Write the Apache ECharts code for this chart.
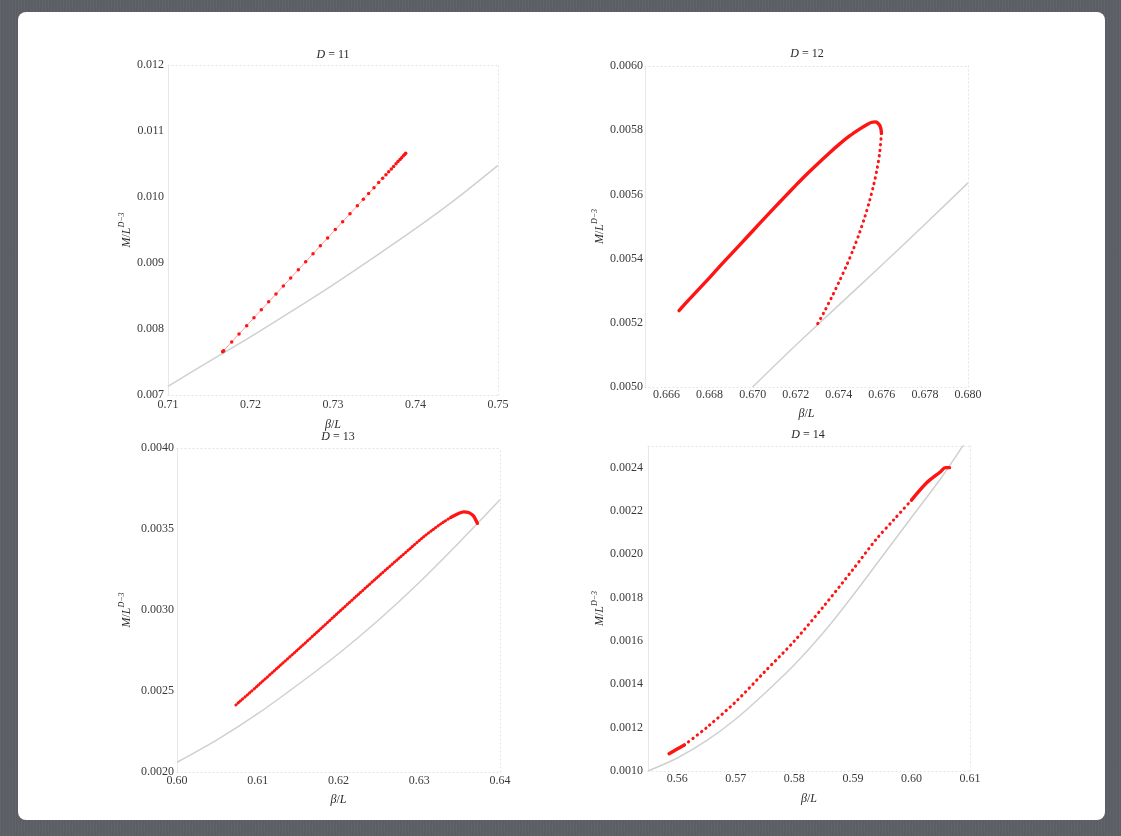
<!DOCTYPE html>
<html>
<head>
<meta charset="utf-8">
<title>M/L^(D-3) vs beta/L</title>
<script src="https://cdn.jsdelivr.net/npm/echarts@6/dist/echarts.min.js"></script>
<style>
  html, body { margin: 0; padding: 0; width: 1121px; height: 836px; overflow: hidden; }
  body {
    background: #5b5e65 repeating-linear-gradient(90deg, rgba(255,255,255,0.035) 0 1px, rgba(0,0,0,0) 1px 3px);
  }
  #panel { position: absolute; left: 18px; top: 12px; width: 1087px; height: 808px; background: #ffffff; border-radius: 8px; }
  #chart { position: absolute; left: 0; top: 0; width: 1121px; height: 836px; }
</style>
</head>
<body>
<div id="panel"></div>
<div id="chart"></div>
<script>
// ---- dimensions shown in the four panels ----
const dims = ['11', '12', '13', '14'];

// ---- axis extents ----
const xRange11 = [0.71, 0.75],  yRange11 = [0.007, 0.012];
const xRange12 = [0.665, 0.680], yRange12 = [0.0050, 0.0060];
const xRange13 = [0.60, 0.64],  yRange13 = [0.0020, 0.0040];
const xRange14 = [0.555, 0.61], yRange14 = [0.0010, 0.0025];

// ---- tick labels ----
const xTicks11 = [0.71, 0.72, 0.73, 0.74, 0.75];
const yTicks11 = [0.007, 0.008, 0.009, 0.010, 0.011, 0.012];
const xTicks12 = [0.666, 0.668, 0.670, 0.672, 0.674, 0.676, 0.678, 0.680];
const yTicks12 = [0.0050, 0.0052, 0.0054, 0.0056, 0.0058, 0.0060];
const xTicks13 = [0.60, 0.61, 0.62, 0.63, 0.64];
const yTicks13 = [0.0020, 0.0025, 0.0030, 0.0035, 0.0040];
const xTicks14 = [0.56, 0.57, 0.58, 0.59, 0.60, 0.61];
const yTicks14 = [0.0010, 0.0012, 0.0014, 0.0016, 0.0018, 0.0020, 0.0022, 0.0024];

// ---- D = 11 ----
const d11Gray = [[0.710,0.00713],[0.715,0.00751],[0.720,0.00788],[0.725,0.00827],[0.730,0.00867],
  [0.735,0.00909],[0.740,0.00952],[0.745,0.00998],[0.750,0.01048]];
const d11Red = [[0.71663,0.007656],[0.71668,0.007663],[0.71675,0.007672],[0.71772,0.007804],[0.71861,0.007924],
  [0.71954,0.008050],[0.72042,0.008170],[0.72131,0.008290],[0.72220,0.008411],[0.72309,0.008531],
  [0.72398,0.008652],[0.72487,0.008773],[0.72580,0.008899],[0.72669,0.009019],[0.72758,0.009140],
  [0.72847,0.009260],[0.72935,0.009380],[0.73028,0.009506],[0.73117,0.009626],[0.73206,0.009747],
  [0.73295,0.009867],[0.73368,0.009966],[0.73432,0.010053],[0.73497,0.010141],[0.73554,0.010218],
  [0.73602,0.010283],[0.73642,0.010338],[0.73675,0.010382],[0.73707,0.010426],[0.73735,0.010464],
  [0.73764,0.010503],[0.73788,0.010536],[0.73812,0.010568],[0.73832,0.010595],[0.73853,0.010624],
  [0.73869,0.010645],[0.73881,0.010662]];

// ---- D = 12 ----
const d12Gray = [[0.670,0.00500],[0.672,0.00513],[0.674,0.005255],[0.676,0.00538],[0.678,0.005507],[0.680,0.005636]];
const d12RedUpper = [[0.66658,0.005238],[0.6670,0.005269],[0.6675,0.005305],[0.6680,0.005341],[0.6685,0.005378],
  [0.6690,0.005414],[0.6695,0.005450],[0.6700,0.005486],[0.6705,0.005522],[0.6710,0.005558],[0.6715,0.005593],
  [0.6720,0.005628],[0.6725,0.005662],[0.6730,0.005694],[0.6735,0.005725],[0.6740,0.005755],[0.6745,0.005782],
  [0.6750,0.005805],[0.6753,0.005817],[0.6755,0.005824],[0.6757,0.005826],[0.6758,0.005823],[0.67590,0.005815],
  [0.67596,0.005803],[0.67598,0.005790]];
const d12RedLower = [[0.67598,0.005790],[0.67597,0.005780],[0.67590,0.005730],[0.67578,0.005680],[0.67562,0.005630],
  [0.67543,0.005580],[0.67521,0.005530],[0.67496,0.005480],[0.67468,0.005430],[0.67437,0.005380],
  [0.67403,0.005330],[0.67367,0.005280],[0.67329,0.005230],[0.67294,0.005188]];

// ---- D = 13 ----
const d13Gray = [[0.600,0.00206],[0.605,0.00220],[0.610,0.00236],[0.615,0.00254],[0.620,0.00273],
  [0.625,0.00294],[0.630,0.00317],[0.635,0.00342],[0.640,0.00368]];
const d13Red = [[0.6073,0.002414],[0.6100,0.002533],[0.6125,0.002645],[0.6150,0.002757],[0.6175,0.002870],
  [0.6200,0.002985],[0.6225,0.003098],[0.6250,0.003210],[0.6275,0.003320],[0.6290,0.003385],
  [0.6305,0.003450],[0.6318,0.003500],[0.6330,0.003543],[0.6340,0.003574]];
const d13RedHook = [[0.6340,0.003574],[0.6348,0.003594],[0.6355,0.003606],[0.6361,0.003602],[0.6366,0.003586],
  [0.6369,0.003566],[0.6372,0.003535]];

// ---- D = 14 ----
const d14Gray = [[0.555,0.00100],[0.560,0.00106],[0.565,0.00114],[0.570,0.00124],[0.575,0.00136],[0.580,0.00149],
  [0.585,0.00164],[0.590,0.00181],[0.595,0.00199],[0.600,0.00217],[0.605,0.00235],[0.6095,0.00253]];
const d14RedStart = [[0.5586,0.00108],[0.5599,0.00110],[0.5612,0.00112]];
const d14RedMid = [[0.5612,0.00112],[0.5650,0.00120],[0.5700,0.00132],[0.5750,0.00146],[0.5800,0.00160],
  [0.5850,0.00176],[0.5900,0.00193],[0.5940,0.00207],[0.5970,0.00216],[0.6000,0.00225]];
const d14RedEnd = [[0.6000,0.00225],[0.6026,0.00233],[0.6049,0.00238],[0.6058,0.00240],[0.6065,0.00240]];

// ---- styling ----
const SERIF = 'Liberation Serif';
const LABEL_COLOR = '#3a3a3a';
const GRAY = '#cdd1cf';
const RED = '#ff1414';

const panels = [
  { grid: { left: 168, top: 65, width: 330, height: 330 }, xr: xRange11, yr: yRange11, xt: xTicks11, yt: yTicks11,
    xd: 2, yd: 3, xm: 4, ym: 4, xGap: 24, yGap: 31, title: [333, 55] },
  { grid: { left: 645, top: 66, width: 323, height: 321 }, xr: xRange12, yr: yRange12, xt: xTicks12, yt: yTicks12,
    xd: 3, yd: 4, xm: 2, ym: 2, xGap: 21, yGap: 36, title: [807, 54] },
  { grid: { left: 177, top: 448, width: 323, height: 324 }, xr: xRange13, yr: yRange13, xt: xTicks13, yt: yTicks13,
    xd: 2, yd: 4, xm: 3, ym: 3, xGap: 22, yGap: 41, title: [338, 437] },
  { grid: { left: 648, top: 446, width: 322, height: 325 }, xr: xRange14, yr: yRange14, xt: xTicks14, yt: yTicks14,
    xd: 2, yd: 4, xm: 2, ym: 5, xGap: 22, yGap: 39, title: [808, 435] }
];

const italic = { fontFamily: SERIF, fontStyle: 'italic', fontSize: 12, color: '#2a2a2a' };
const nameStyle = (extra) => Object.assign({ fontFamily: SERIF, fontSize: 12, color: '#2a2a2a' }, extra || {});

const grids = [], xAxes = [], yAxes = [], graphics = [];
const frameLine = { show: true, onZero: false, lineStyle: { color: '#dfe3e3', width: 1, type: [1, 3] } };

panels.forEach((p, i) => {
  grids.push(Object.assign({ containLabel: false }, p.grid));
  // bottom axis with labels
  xAxes.push({
    gridIndex: i, type: 'value', min: p.xr[0], max: p.xr[1], position: 'bottom',
    axisLine: frameLine, axisTick: { show: false }, splitLine: { show: false },
    axisLabel: { customValues: p.xt, formatter: v => v.toFixed(p.xd), margin: p.xm,
      fontFamily: SERIF, fontSize: 12, color: LABEL_COLOR },
    name: '{i|β}/{i|L}', nameLocation: 'middle', nameGap: p.xGap,
    nameTextStyle: nameStyle({ rich: { i: italic } })
  });
  // top frame edge
  xAxes.push({
    gridIndex: i, type: 'value', min: p.xr[0], max: p.xr[1], position: 'top',
    axisLine: frameLine, axisTick: { show: false }, splitLine: { show: false }, axisLabel: { show: false }
  });
  // left axis with labels
  yAxes.push({
    gridIndex: i, type: 'value', min: p.yr[0], max: p.yr[1], position: 'left',
    axisLine: { show: true, onZero: false, lineStyle: { color: '#e6e9e9', width: 1 } },
    axisTick: { show: false }, splitLine: { show: false },
    axisLabel: { customValues: p.yt, formatter: v => v.toFixed(p.yd), margin: p.ym,
      fontFamily: SERIF, fontSize: 12, color: LABEL_COLOR },
    name: '{i|M}/{i|L}{s|D−3}', nameLocation: 'middle', nameGap: p.yGap, nameRotate: 90,
    nameTextStyle: nameStyle({ rich: {
      i: Object.assign({}, italic, { lineHeight: 18 }),
      s: { fontFamily: SERIF, fontStyle: 'italic', fontSize: 8, color: '#2a2a2a', verticalAlign: 'top', lineHeight: 10 }
    } })
  });
  // right frame edge
  yAxes.push({
    gridIndex: i, type: 'value', min: p.yr[0], max: p.yr[1], position: 'right',
    axisLine: frameLine, axisTick: { show: false }, splitLine: { show: false }, axisLabel: { show: false }
  });
  graphics.push({
    type: 'text', x: p.title[0], y: p.title[1], silent: true,
    style: {
      text: '{i|D} = ' + dims[i], align: 'center', verticalAlign: 'middle',
      fontFamily: SERIF, fontSize: 12, fill: '#2a2a2a',
      rich: { i: { fontFamily: SERIF, fontStyle: 'italic', fontSize: 12, fill: '#2a2a2a' } }
    }
  });
});

const base = (i, data) => ({
  type: 'line', xAxisIndex: 2 * i, yAxisIndex: 2 * i, data: data,
  showSymbol: false, silent: true, animation: false, clip: true
});
const grayCurve = (i, data) => Object.assign(base(i, data), {
  smooth: 0.3, lineStyle: { color: GRAY, width: 1.5 }, z: 2
});
const solidRed = (i, data) => Object.assign(base(i, data), {
  smooth: 0.3, lineStyle: { color: RED, width: 3.4, cap: 'round' }, z: 3
});
const dottedRed = (i, data, gap) => Object.assign(base(i, data), {
  smooth: 0.3, lineStyle: { color: RED, width: 3, type: [0.4, gap], cap: 'round' }, z: 3
});

const series = [
  grayCurve(0, d11Gray),
  Object.assign(base(0, d11Red), {
    showSymbol: true, symbol: 'circle', symbolSize: 3.5,
    itemStyle: { color: RED }, lineStyle: { color: 'rgba(255,40,40,0.45)', width: 1 }, z: 3
  }),
  grayCurve(1, d12Gray),
  solidRed(1, d12RedUpper),
  dottedRed(1, d12RedLower, 5.2),
  grayCurve(2, d13Gray),
  dottedRed(2, d13Red, 2.6),
  solidRed(2, d13RedHook),
  grayCurve(3, d14Gray),
  solidRed(3, d14RedStart),
  dottedRed(3, d14RedMid, 5.0),
  solidRed(3, d14RedEnd)
];

const chart = echarts.init(document.getElementById('chart'), null, { renderer: 'canvas' });
chart.setOption({
  backgroundColor: 'transparent',
  animation: false,
  grid: grids,
  xAxis: xAxes,
  yAxis: yAxes,
  graphic: graphics,
  series: series
});
</script>
</body>
</html>
